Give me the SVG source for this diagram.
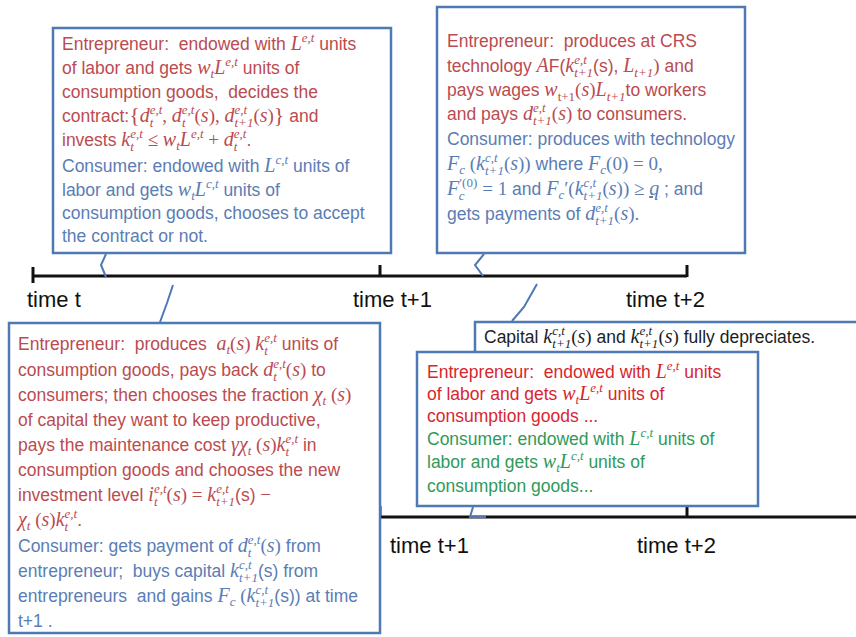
<svg xmlns="http://www.w3.org/2000/svg" width="856" height="637" viewBox="0 0 856 637">
<style>
.tx{font-family:"Liberation Sans",Arial,sans-serif;font-size:17.5px;white-space:pre}
.m{font-family:"Liberation Serif","Times New Roman",serif;font-style:italic;font-size:20px}
.u{font-family:"Liberation Serif","Times New Roman",serif;font-style:normal;font-size:19px}
.s{font-family:"Liberation Serif","Times New Roman",serif;font-style:italic;font-size:13px}
.r{fill:#bb4b50}.b{fill:#5a7db5}.rr{fill:#d9262e}.g{fill:#2f9a5c}.k{fill:#1e1e1e}
.box{fill:#ffffff;stroke:#4e79b5;stroke-width:2.5}
.tl{stroke:#111;stroke-width:3;fill:none}
.tk{stroke:#111;stroke-width:3}
.lbl{font-family:"Liberation Sans",Arial,sans-serif;font-size:22px;fill:#111}
.tail{fill:none;stroke:#4e79b5;stroke-width:2}
</style>
<rect width="856" height="637" fill="#ffffff"/>

<g id="timeline-top">
<line class="tl" x1="33" y1="276" x2="687" y2="276"/>
<line class="tk" x1="33" y1="267" x2="33" y2="283"/>
<line class="tk" x1="380" y1="265" x2="380" y2="277"/>
<line class="tk" x1="687" y1="265" x2="687" y2="277"/>
<text class="lbl" x="27" y="307">time t</text>
<text class="lbl" x="353" y="307">time t+1</text>
<text class="lbl" x="626" y="307">time t+2</text>
</g>

<g id="timeline-bottom">
<line class="tl" x1="380" y1="517" x2="856" y2="517"/>
<line class="tk" x1="380" y1="506" x2="380" y2="518"/>
<line class="tk" x1="687" y1="506" x2="687" y2="518"/>
<text class="lbl" x="390" y="553">time t+1</text>
<text class="lbl" x="637" y="553">time t+2</text>
</g>

<g id="box-time-t">
<rect class="box" x="53" y="28" width="338" height="225"/>
<text xml:space="preserve" x="62" y="50" class="tx r">Entrepreneur:  endowed with <tspan class="m">L</tspan><tspan class="s" dy="-8">e,t</tspan><tspan dy="8"> units</tspan></text>
<text x="62" y="74" class="tx r">of labor and gets <tspan class="m">w</tspan><tspan class="s" dy="4">t</tspan><tspan class="m" dy="-4">L</tspan><tspan class="s" dy="-8">e,t</tspan><tspan dy="8"> units of</tspan></text>
<text xml:space="preserve" x="62" y="98" class="tx r">consumption goods,  decides the</text>
<text x="62" y="122" class="tx r">contract:<tspan class="u" style="font-size:22px">{</tspan><tspan class="m">d</tspan><tspan class="s" dy="-8">e,t</tspan><tspan class="s" dx="-12.6" dy="13">t</tspan><tspan class="u" dx="9" dy="-5">, </tspan><tspan class="m">d</tspan><tspan class="s" dy="-8">e,t</tspan><tspan class="s" dx="-12.6" dy="13">t</tspan><tspan class="u" dx="9" dy="-5">(</tspan><tspan class="m">s</tspan><tspan class="u">), </tspan><tspan class="m">d</tspan><tspan class="s" dy="-8">e,t</tspan><tspan class="s" dx="-12.6" dy="13">t+1</tspan><tspan class="u" dy="-5">(</tspan><tspan class="m">s</tspan><tspan class="u">)</tspan><tspan class="u" style="font-size:22px">}</tspan><tspan> and</tspan></text>
<text x="62" y="146" class="tx r">invests <tspan class="m">k</tspan><tspan class="s" dy="-8">e,t</tspan><tspan class="s" dx="-12.6" dy="13">t</tspan><tspan class="u" dx="9" dy="-5"> ≤ </tspan><tspan class="m">w</tspan><tspan class="s" dy="4">t</tspan><tspan class="m" dy="-4">L</tspan><tspan class="s" dy="-8">e,t</tspan><tspan class="u" dy="8"> + </tspan><tspan class="m">d</tspan><tspan class="s" dy="-8">e,t</tspan><tspan class="s" dx="-12.6" dy="13">t</tspan><tspan dx="9" dy="-5">.</tspan></text>
<text x="62" y="172" class="tx b">Consumer: endowed with <tspan class="m">L</tspan><tspan class="s" dy="-8">c,t</tspan><tspan dy="8"> units of</tspan></text>
<text x="62" y="196" class="tx b">labor and gets <tspan class="m">w</tspan><tspan class="s" dy="4">t</tspan><tspan class="m" dy="-4">L</tspan><tspan class="s" dy="-8">c,t</tspan><tspan dy="8"> units of</tspan></text>
<text x="62" y="219" class="tx b">consumption goods, chooses to accept</text>
<text x="62" y="242" class="tx b">the contract or not.</text>
</g>

<g id="box-time-t1-production">
<rect class="box" x="437" y="7" width="308" height="246"/>
<text xml:space="preserve" x="447" y="47" class="tx r">Entrepreneur:  produces at CRS</text>
<text x="447" y="72" class="tx r">technology <tspan class="m">A</tspan>F(<tspan class="m">k</tspan><tspan class="s" dy="-8">e,t</tspan><tspan class="s" dx="-12.6" dy="13">t+1</tspan><tspan dy="-5">(s), </tspan><tspan class="m">L</tspan><tspan class="s" dy="5">t+1</tspan><tspan class="u" dy="-5">)</tspan> and</text>
<text x="447" y="96" class="tx r">pays wages <tspan class="m">w</tspan><tspan class="s" dy="5" style="font-style:normal">t+1</tspan><tspan class="u" dy="-5">(</tspan><tspan class="m">s</tspan><tspan class="u">)</tspan><tspan class="m">L</tspan><tspan class="s" dy="5">t+1</tspan><tspan dy="-5">to workers</tspan></text>
<text x="447" y="120" class="tx r">and pays <tspan class="m">d</tspan><tspan class="s" dy="-8">e,t</tspan><tspan class="s" dx="-12.6" dy="13">t+1</tspan><tspan class="u" dy="-5">(</tspan><tspan class="m">s</tspan><tspan class="u">)</tspan> to consumers.</text>
<text x="447" y="145" class="tx b">Consumer: produces with technology</text>
<text x="447" y="170" class="tx b"><tspan class="m">F</tspan><tspan class="s" dy="4">c</tspan><tspan class="u" dy="-4"> (</tspan><tspan class="m">k</tspan><tspan class="s" dy="-8">c,t</tspan><tspan class="s" dx="-12.6" dy="13">t+1</tspan><tspan class="u" dy="-5">(</tspan><tspan class="m">s</tspan><tspan class="u">))</tspan> where <tspan class="m">F</tspan><tspan class="s" dy="4">c</tspan><tspan class="u" dy="-4">(0) = 0,</tspan></text>
<text x="447" y="195" class="tx b"><tspan class="m">F</tspan><tspan class="s" dy="-8" style="font-style:normal">′(0)</tspan><tspan class="s" dx="-18.5" dy="13">c</tspan><tspan class="u" dx="13" dy="-5"> = 1</tspan> and <tspan class="m">F</tspan><tspan class="s" dy="4">c</tspan><tspan class="u" dy="-4">′(</tspan><tspan class="m">k</tspan><tspan class="s" dy="-8">c,t</tspan><tspan class="s" dx="-12.6" dy="13">t+1</tspan><tspan class="u" dy="-5">(</tspan><tspan class="m">s</tspan><tspan class="u">)) ≥ </tspan><tspan class="m" style="text-decoration:underline">q</tspan> ; and</text>
<text x="447" y="220" class="tx b">gets payments of <tspan class="m">d</tspan><tspan class="s" dy="-8">e,t</tspan><tspan class="s" dx="-12.6" dy="13">t+1</tspan><tspan class="u" dy="-5">(</tspan><tspan class="m">s</tspan><tspan class="u">).</tspan></text>
</g>

<g id="box-time-t1-allocation">
<rect class="box" x="9" y="323" width="371" height="310"/>
<text xml:space="preserve" x="18" y="350" class="tx r">Entrepreneur:  produces  <tspan class="m">a</tspan><tspan class="s" dy="4">t</tspan><tspan class="u" dy="-4">(</tspan><tspan class="m">s</tspan><tspan class="u">) </tspan><tspan class="m">k</tspan><tspan class="s" dy="-8">e,t</tspan><tspan class="s" dx="-12.6" dy="13">t</tspan><tspan dx="9" dy="-5"> units of</tspan></text>
<text x="18" y="376" class="tx r">consumption goods, pays back <tspan class="m">d</tspan><tspan class="s" dy="-8">e,t</tspan><tspan class="s" dx="-12.6" dy="13">t</tspan><tspan class="u" dx="9" dy="-5">(</tspan><tspan class="m">s</tspan><tspan class="u">)</tspan> to</text>
<text x="18" y="401" class="tx r">consumers; then chooses the fraction <tspan class="m">χ</tspan><tspan class="s" dy="4">t</tspan><tspan class="u" dy="-4"> (</tspan><tspan class="m">s</tspan><tspan class="u">)</tspan></text>
<text x="18" y="426" class="tx r">of capital they want to keep productive,</text>
<text x="18" y="451" class="tx r">pays the maintenance cost <tspan class="m">γχ</tspan><tspan class="s" dy="4">t</tspan><tspan class="u" dy="-4"> (</tspan><tspan class="m">s</tspan><tspan class="u">)</tspan><tspan class="m">k</tspan><tspan class="s" dy="-8">e,t</tspan><tspan class="s" dx="-12.6" dy="13">t</tspan><tspan dx="9" dy="-5"> in</tspan></text>
<text x="18" y="476" class="tx r">consumption goods and chooses the new</text>
<text x="18" y="501" class="tx r">investment level <tspan class="m">i</tspan><tspan class="s" dy="-8">e,t</tspan><tspan class="s" dx="-12.6" dy="13">t</tspan><tspan class="u" dx="9" dy="-5">(</tspan><tspan class="m">s</tspan><tspan class="u">) = </tspan><tspan class="m">k</tspan><tspan class="s" dy="-8">e,t</tspan><tspan class="s" dx="-12.6" dy="13">t+1</tspan><tspan dy="-5">(s) </tspan><tspan class="u">−</tspan></text>
<text x="18" y="526" class="tx r"><tspan class="m">χ</tspan><tspan class="s" dy="4">t</tspan><tspan class="u" dy="-4"> (</tspan><tspan class="m">s</tspan><tspan class="u">)</tspan><tspan class="m">k</tspan><tspan class="s" dy="-8">e,t</tspan><tspan class="s" dx="-12.6" dy="13">t</tspan><tspan dx="9" dy="-5">.</tspan></text>
<text x="18" y="552" class="tx b">Consumer: gets payment of <tspan class="m">d</tspan><tspan class="s" dy="-8">e,t</tspan><tspan class="s" dx="-12.6" dy="13">t</tspan><tspan class="u" dx="9" dy="-5">(</tspan><tspan class="m">s</tspan><tspan class="u">)</tspan> from</text>
<text xml:space="preserve" x="18" y="577" class="tx b">entrepreneur;  buys capital <tspan class="m">k</tspan><tspan class="s" dy="-8">c,t</tspan><tspan class="s" dx="-12.6" dy="13">t+1</tspan><tspan dy="-5">(s) from</tspan></text>
<text xml:space="preserve" x="18" y="602" class="tx b">entrepreneurs  and gains <tspan class="m">F</tspan><tspan class="s" dy="4">c</tspan><tspan class="u" dy="-4"> (</tspan><tspan class="m">k</tspan><tspan class="s" dy="-8">c,t</tspan><tspan class="s" dx="-12.6" dy="13">t+1</tspan><tspan dy="-5">(s)) at time</tspan></text>
<text x="18" y="627" class="tx b">t+1 .</text>
</g>

<g id="box-capital">
<rect x="475" y="322" width="400" height="30" fill="#ffffff"/>
<path d="M475,352 V322 H858" fill="none" stroke="#4e79b5" stroke-width="2.5"/>
<text x="484" y="343" class="tx k">Capital <tspan class="m">k</tspan><tspan class="s" dy="-8">c,t</tspan><tspan class="s" dx="-12.6" dy="13">t+1</tspan><tspan class="u" dy="-5">(</tspan><tspan class="m">s</tspan><tspan class="u">)</tspan> and <tspan class="m">k</tspan><tspan class="s" dy="-8">e,t</tspan><tspan class="s" dx="-12.6" dy="13">t+1</tspan><tspan class="u" dy="-5">(</tspan><tspan class="m">s</tspan><tspan class="u">)</tspan> fully depreciates.</text>
</g>

<g id="box-time-t2">
<rect class="box" x="417" y="352" width="341" height="154"/>
<text xml:space="preserve" x="427" y="378" class="tx rr">Entrepreneur:  endowed with <tspan class="m">L</tspan><tspan class="s" dy="-8">e,t</tspan><tspan dy="8"> units</tspan></text>
<text x="427" y="400" class="tx rr">of labor and gets <tspan class="m">w</tspan><tspan class="s" dy="4">t</tspan><tspan class="m" dy="-4">L</tspan><tspan class="s" dy="-8">e,t</tspan><tspan dy="8"> units of</tspan></text>
<text x="427" y="422" class="tx rr">consumption goods ...</text>
<text x="427" y="445" class="tx g">Consumer: endowed with <tspan class="m">L</tspan><tspan class="s" dy="-8">c,t</tspan><tspan dy="8"> units of</tspan></text>
<text x="427" y="468" class="tx g">labor and gets <tspan class="m">w</tspan><tspan class="s" dy="4">t</tspan><tspan class="m" dy="-4">L</tspan><tspan class="s" dy="-8">c,t</tspan><tspan dy="8"> units of</tspan></text>
<text x="427" y="492" class="tx g">consumption goods...</text>
</g>

<g id="connectors">
<polyline class="tail" points="106,254 101,265 106,277"/>
<polyline class="tail" points="484,254 475,265 483,276"/>
<polyline class="tail" points="173,285 167,303 160,322"/>
<polyline class="tail" points="537,284 524,307 512,321"/>
<polyline class="tail" points="473,507 470,517 486,517" stroke-width="2.5"/>
</g>
</svg>
